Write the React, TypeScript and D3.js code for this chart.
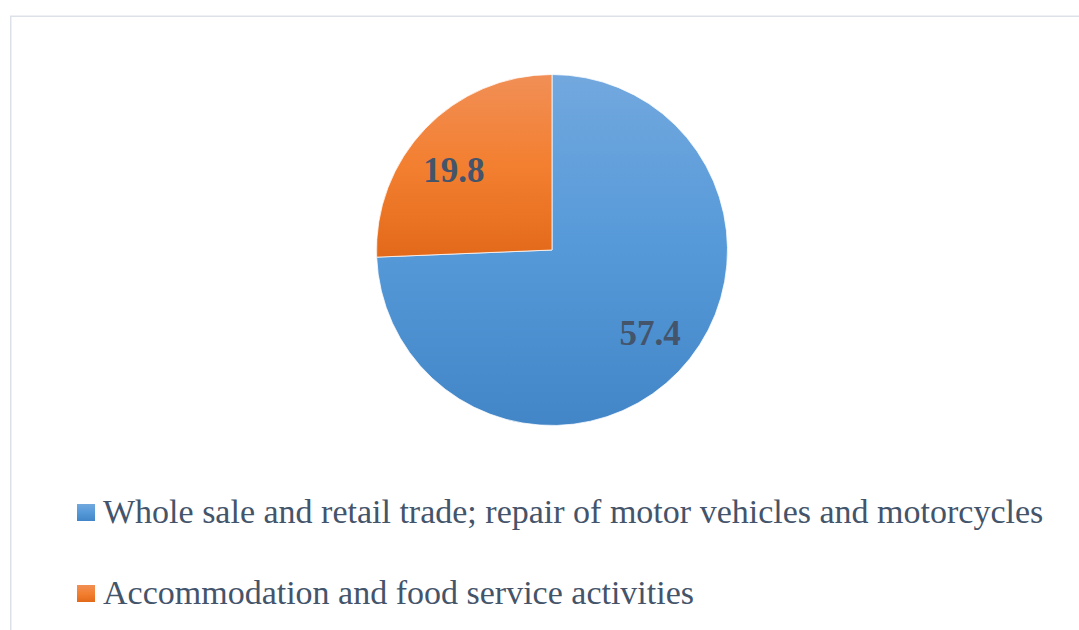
import React from 'react';
import * as d3 from 'd3';

// Data
const categories = [
  'Whole sale and retail trade; repair of motor vehicles and motorcycles',
  'Accommodation and food service activities',
];
const values = [57.4, 19.8];
const valueLabels = ['57.4', '19.8'];
const gradientStops = [
  ['#72a8de', '#5599d9', '#4386c7'],
  ['#f18f56', '#f37f30', '#e3691a'],
];

const width = 1079;
const height = 630;
const cx = 552;
const cy = 250;
const radius = 175.5;
const textColor = '#44546a';
const font = '"Liberation Serif", "Times New Roman", serif';

const App = () => {
  const pie = d3.pie<number>().sort(null).value(d => d)(values);
  const arc = d3.arc<d3.PieArcDatum<number>>().innerRadius(0).outerRadius(radius);
  // labels sit a bit wider than tall, like the office chart
  const labelArc = d3.arc<d3.PieArcDatum<number>>().innerRadius(118).outerRadius(118);

  return (
    <div style={{ position: 'absolute', left: 0, top: 0, width, height, background: '#fff' }}>
      <svg width={width} height={height} style={{ display: 'block' }}>
        <defs>
          {gradientStops.map((stops, i) => (
            <linearGradient key={i} id={`grad${i}`} x1="0" y1="0" x2="0" y2="1">
              <stop offset="0%" stopColor={stops[0]} />
              <stop offset="50%" stopColor={stops[1]} />
              <stop offset="100%" stopColor={stops[2]} />
            </linearGradient>
          ))}
        </defs>

        {/* chart frame */}
        <rect x={10.75} y={16.25} width={1200} height={700} fill="none" stroke="#dde1e8" strokeWidth={1.5} />

        {/* slices */}
        <g transform={`translate(${cx},${cy})`}>
          {pie.map((d, i) => (
            <path key={i} d={arc(d) || ''} fill={`url(#grad${i})`} stroke="#ffffff" strokeWidth={0.75} />
          ))}
          {pie.map((d, i) => {
            const [x, y] = labelArc.centroid(d);
            return (
              <text
                key={i}
                x={x * (136 / 118)}
                y={y + 2}
                textAnchor="middle"
                dominantBaseline="central"
                fontFamily={font}
                fontWeight="bold"
                fontSize={35}
                fill={textColor}
              >
                {valueLabels[i]}
              </text>
            );
          })}
        </g>

        {/* legend */}
        {categories.map((c, i) => (
          <g key={i} transform={`translate(77,${504 + i * 81})`}>
            <rect x={0} y={0} width={18} height={17} fill={`url(#grad${i})`} />
            <text x={26} y={18.7} fontFamily={font} fontSize={34} fill={textColor}>
              {c}
            </text>
          </g>
        ))}
      </svg>
    </div>
  );
};

export default App;
